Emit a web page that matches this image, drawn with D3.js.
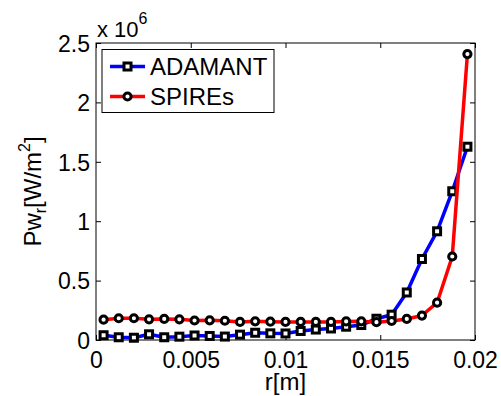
<!DOCTYPE html>
<html>
<head>
<meta charset="utf-8">
<script src="https://cdn.jsdelivr.net/npm/d3@7"></script>
<style>
  html, body { margin: 0; padding: 0; background: #fff; }
  svg { display: block; font-family: "Liberation Sans", Arial, Helvetica, sans-serif; }
</style>
</head>
<body>
<svg id="chart" width="501" height="396"></svg>
<script>
// Radial positions (m)
const radius = [0.0004, 0.0012, 0.0020, 0.0028, 0.0036, 0.0044, 0.0052, 0.0060, 0.0068,
                0.0076, 0.0084, 0.0092, 0.0100, 0.0108, 0.0116, 0.0124, 0.0132, 0.0140,
                0.0148, 0.0156, 0.0164, 0.0172, 0.0180, 0.0188, 0.0196];

// Wall power density Pw_r (W/m^2)
const adamant = [0.040e6, 0.023e6, 0.019e6, 0.048e6, 0.023e6, 0.028e6, 0.038e6, 0.034e6, 0.029e6,
                 0.045e6, 0.061e6, 0.056e6, 0.055e6, 0.076e6, 0.088e6, 0.097e6, 0.112e6, 0.126e6,
                 0.179e6, 0.213e6, 0.400e6, 0.682e6, 0.915e6, 1.252e6, 1.627e6];
const spires  = [0.171e6, 0.183e6, 0.183e6, 0.174e6, 0.177e6, 0.174e6, 0.164e6, 0.166e6, 0.162e6,
                 0.152e6, 0.157e6, 0.154e6, 0.152e6, 0.152e6, 0.152e6, 0.152e6, 0.156e6, 0.157e6,
                 0.150e6, 0.160e6, 0.177e6, 0.206e6, 0.314e6, 0.703e6, 2.407e6];

const xTicks = [0, 0.005, 0.01, 0.015, 0.02];
const xTickLabels = ["0", "0.005", "0.01", "0.015", "0.02"];
const yTicks = [0, 0.5e6, 1e6, 1.5e6, 2e6, 2.5e6];
const yTickLabels = ["0", "0.5", "1", "1.5", "2", "2.5"];

const seriesNames = ["ADAMANT", "SPIREs"];
const seriesColors = ["#0000ff", "#ff0000"];
const seriesMarkers = ["square", "circle"];

const svg = d3.select("#chart");
const L = 96, R = 475, T = 43, B = 340;
const x = d3.scaleLinear().domain([0, 0.02]).range([L, R]);
const y = d3.scaleLinear().domain([0, 2.5e6]).range([B, T]);

const tickFont = 23;
const labelFont = 24;

// Axes: inward ticks on all four sides (boxed axes)
const tickLen = 5;
const fmtX = (d, i) => xTickLabels[i];
const fmtY = (d, i) => yTickLabels[i];

const gBottom = svg.append("g").attr("transform", `translate(0,${B})`)
  .call(d3.axisBottom(x).tickValues(xTicks).tickFormat(fmtX).tickSizeInner(-tickLen).tickSizeOuter(0).tickPadding(12));
const gTop = svg.append("g").attr("transform", `translate(0,${T})`)
  .call(d3.axisTop(x).tickValues(xTicks).tickFormat("").tickSizeInner(-tickLen).tickSizeOuter(0));
const gLeft = svg.append("g").attr("transform", `translate(${L},0)`)
  .call(d3.axisLeft(y).tickValues(yTicks).tickFormat(fmtY).tickSizeInner(-tickLen).tickSizeOuter(0).tickPadding(6));
const gRight = svg.append("g").attr("transform", `translate(${R},0)`)
  .call(d3.axisRight(y).tickValues(yTicks).tickFormat("").tickSizeInner(-tickLen).tickSizeOuter(0));

[gBottom, gTop, gLeft, gRight].forEach(g => {
  g.select(".domain").remove();
  g.selectAll(".tick line").attr("stroke", "#000").attr("stroke-width", 1);
  g.selectAll("text").attr("fill", "#000").attr("font-size", tickFont)
    .attr("font-family", "'Liberation Sans', Arial, sans-serif");
});
gBottom.selectAll(".tick text").attr("dy", "0.71em");
gLeft.selectAll(".tick text").attr("dy", "0.36em");

// Series lines and markers
const line = d3.line().x((d, i) => x(radius[i])).y(d => y(d));
[adamant, spires].forEach((vals, k) => {
  svg.append("path").datum(vals)
    .attr("d", line).attr("fill", "none")
    .attr("stroke", seriesColors[k]).attr("stroke-width", 3.5)
    .attr("stroke-linejoin", "round");
  const g = svg.append("g");
  if (seriesMarkers[k] === "square") {
    g.selectAll("rect").data(vals).join("rect")
      .attr("x", (d, i) => x(radius[i]) - 3.5).attr("y", d => y(d) - 3.5)
      .attr("width", 7).attr("height", 7)
      .attr("fill", "#fff").attr("stroke", "#000").attr("stroke-width", 3);
  } else {
    g.selectAll("circle").data(vals).join("circle")
      .attr("cx", (d, i) => x(radius[i])).attr("cy", d => y(d)).attr("r", 3.6)
      .attr("fill", "#fff").attr("stroke", "#000").attr("stroke-width", 3);
  }
});

// Axes box
svg.append("rect").attr("x", L).attr("y", T).attr("width", R - L).attr("height", B - T)
  .attr("fill", "none").attr("stroke", "#000").attr("stroke-width", 1);

// Exponent label
const expo = svg.append("text").attr("x", 97).attr("y", 37).attr("font-size", 22).attr("fill", "#000");
expo.append("tspan").text("x 10");
expo.append("tspan").attr("dy", -13).attr("font-size", 16).text("6");

// X axis label
svg.append("text").attr("x", (L + R) / 2).attr("y", 390).attr("text-anchor", "middle")
  .attr("font-size", labelFont).attr("fill", "#000").text("r[m]");

// Y axis label with sub/superscripts
const yl = svg.append("text")
  .attr("transform", `translate(41,${(T + B) / 2}) rotate(-90)`)
  .attr("text-anchor", "middle").attr("font-size", labelFont).attr("fill", "#000");
yl.append("tspan").text("Pw");
yl.append("tspan").attr("dy", 5).attr("font-size", 16).text("r");
yl.append("tspan").attr("dy", -5).text("[W/m");
yl.append("tspan").attr("dy", -11).attr("font-size", 16).text("2");
yl.append("tspan").attr("dy", 11).text("]");

// Legend
const leg = svg.append("g");
leg.append("rect").attr("x", 102).attr("y", 49.5).attr("width", 172).attr("height", 63)
  .attr("fill", "#fff").attr("stroke", "#000").attr("stroke-width", 1);
const rowsY = [66.5, 96.5];
seriesNames.forEach((name, k) => {
  const yy = rowsY[k];
  leg.append("line").attr("x1", 110).attr("x2", 145).attr("y1", yy).attr("y2", yy)
    .attr("stroke", seriesColors[k]).attr("stroke-width", 3.5);
  if (seriesMarkers[k] === "square") {
    leg.append("rect").attr("x", 127.5 - 3.5).attr("y", yy - 3.5).attr("width", 7).attr("height", 7)
      .attr("fill", "#fff").attr("stroke", "#000").attr("stroke-width", 3);
  } else {
    leg.append("circle").attr("cx", 127.5).attr("cy", yy).attr("r", 3.6)
      .attr("fill", "#fff").attr("stroke", "#000").attr("stroke-width", 3);
  }
  leg.append("text").attr("x", 150).attr("y", yy + 8.5).attr("font-size", labelFont)
    .attr("fill", "#000").text(name);
});
</script>
</body>
</html>
